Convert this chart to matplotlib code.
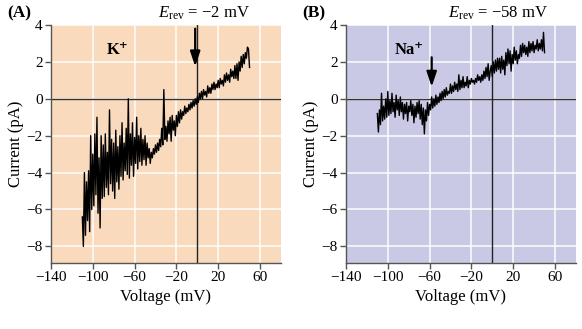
import matplotlib
matplotlib.use("Agg")
import matplotlib.pyplot as plt

plt.rcParams['font.family'] = ['Liberation Serif', 'DejaVu Serif']
plt.rcParams['mathtext.fontset'] = 'custom'
plt.rcParams['mathtext.rm'] = 'Liberation Serif'
plt.rcParams['mathtext.it'] = 'Liberation Serif:italic'

# voltage samples (mV), shared by both traces
voltage = [-110, -109, -108, -107, -106, -105, -104, -103, -102, -101,
           -100, -99, -98, -97, -96, -95, -94, -93, -92, -91,
           -90, -89, -88, -87, -86, -85, -84, -83, -82, -81,
           -80, -79, -78, -77, -76, -75, -74, -73, -72, -71,
           -70, -69, -68, -67, -66, -65, -64, -63, -62, -61,
           -60, -59, -58, -57, -56, -55, -54, -53, -52, -51,
           -50, -49, -48, -47, -46, -45, -44, -43, -42, -41,
           -40, -39, -38, -37, -36, -35, -34, -33, -32, -31,
           -30, -29, -28, -27, -26, -25, -24, -23, -22, -21,
           -20, -19, -18, -17, -16, -15, -14, -13, -12, -11,
           -10, -9, -8, -7, -6, -5, -4, -3, -2, -1,
           0, 1, 2, 3, 4, 5, 6, 7, 8, 9,
           10, 11, 12, 13, 14, 15, 16, 17, 18, 19,
           20, 21, 22, 23, 24, 25, 26, 27, 28, 29,
           30, 31, 32, 33, 34, 35, 36, 37, 38, 39,
           40, 41, 42, 43, 44, 45, 46, 47, 48, 49,
           50]

# K+ current (pA)
current_k = [-6.4, -8.0, -4.0, -7.4, -4.5, -6.6, -3.9, -7.2, -2.0, -6.0,
             -3.0, -5.8, -1.9, -5.2, -1.0, -6.2, -3.2, -7.0, -2.0, -5.4,
             -2.5, -5.3, -1.9, -4.8, -2.9, -5.2, -0.6, -4.6, -2.2, -5.0,
             -2.4, -5.4, -1.7, -4.5, -2.6, -4.9, -2.0, -4.2, -1.3, -4.4,
             -2.4, -3.9, -1.6, -4.1, 0.0, -4.3, -1.9, -3.6, -1.3, -4.2,
             -2.1, -3.5, -1.0, -3.8, -2.0, -3.4, -1.6, -3.6, -2.2, -3.3,
             -2.0, -3.6, -2.4, -3.2, -2.7, -3.5, -2.9, -3.2, -2.7, -3.0,
             -2.5, -2.9, -2.4, -2.8, -2.2, -2.6, -1.6, -2.5, 0.5, -2.2,
             -1.5, -2.3, -1.2, -1.9, -1.0, -2.3, -0.9, -1.7, -1.2, -2.0,
             -0.9, -1.5, -0.7, -1.3, -0.6, -1.1, -0.7, -0.9, -0.4, -0.8,
             -0.5, -0.7, -0.3, -0.6, -0.2, -0.5, -0.1, -0.4, 0.0, -0.3,
             0.1, -0.2, 0.3, 0.0, 0.4, 0.0, 0.5, 0.2, 0.4, 0.1,
             0.7, 0.3, 0.6, 0.3, 0.8, 0.5, 0.9, 0.5, 0.8, 0.6,
             1.0, 0.6, 1.1, 0.8, 1.0, 0.7, 1.3, 0.9, 1.4, 1.0,
             1.3, 0.9, 1.6, 1.2, 1.5, 1.1, 1.8, 1.1, 1.9, 1.0,
             2.0, 1.5, 2.3, 1.7, 2.4, 1.9, 2.5, 2.2, 2.8, 2.7,
             1.7]

# Na+ current (pA)
current_na = [-0.8, -1.8, -0.6, -1.4, 0.3, -1.2, -0.4, -1.1, 0.0, -1.0,
              0.4, -0.9, -0.1, -0.8, 0.3, -0.7, -0.2, -1.0, 0.2, -0.6,
              -0.1, -0.9, 0.1, -0.7, -0.2, -1.1, -0.3, -0.8, -0.2, -1.2,
              -0.4, -0.7, -0.1, -0.9, -0.3, -1.3, -0.4, -1.0, -0.2, -0.8,
              -0.1, -1.1, -0.3, -1.4, -0.5, -1.9, -0.6, -1.2, -0.2, -0.9,
              -0.3, -0.6, 0.1, -0.5, 0.0, -0.4, 0.2, -0.3, 0.1, -0.2,
              0.3, -0.1, 0.4, 0.0, 0.5, 0.1, 0.6, 0.2, 0.4, 0.3,
              0.8, 0.3, 0.7, 0.4, 0.9, 0.5, 0.8, 0.4, 1.3, 0.5,
              1.0, 0.6, 1.2, 0.6, 0.9, 0.7, 1.2, 0.6, 1.0, 0.8,
              1.1, 0.9, 1.0, 0.8, 1.1, 0.9, 1.3, 1.0, 1.2, 0.9,
              1.3, 1.0, 1.5, 1.1, 1.7, 1.2, 1.9, 1.0, 1.5, 1.8,
              1.2, 2.0, 1.4, 2.1, 1.5, 2.2, 1.6, 2.2, 1.4, 2.3,
              1.6, 2.1, 1.3, 2.5, 1.8, 2.7, 1.9, 2.6, 1.5, 2.4,
              1.9, 2.8, 2.1, 2.6, 1.9, 2.4, 2.2, 2.9, 2.3, 3.0,
              2.5, 2.9, 2.4, 2.8, 2.3, 3.1, 2.5, 3.0, 2.6, 3.1,
              2.5, 2.9, 2.7, 3.2, 2.6, 3.0, 2.7, 3.2, 2.6, 3.6,
              2.5]

x_ticks = [-140, -100, -60, -20, 20, 60]
y_ticks = [-8, -6, -4, -2, 0, 2, 4]

panels = [
    dict(pos=[0.0876, 0.2006, 0.395, 0.7234], bg='#FADABD', cur=current_k,
         tag='(A)', erev=-2, ion='K⁺', ion_xy=(-76, 2.2)),
    dict(pos=[0.5945, 0.2006, 0.395, 0.7234], bg='#C9C9E5', cur=current_na,
         tag='(B)', erev=-58, ion='Na⁺', ion_xy=(-80, 2.2)),
]

fig = plt.figure(figsize=(5.82, 3.29), dpi=100)
fig.patch.set_facecolor('white')

for p in panels:
    ax = fig.add_axes(p['pos'])
    ax.set_facecolor(p['bg'])
    ax.set_xlim(-140, 80)
    ax.set_ylim(-8.9, 4)
    ax.set_xticks(x_ticks)
    ax.set_yticks(y_ticks)
    ax.set_xticklabels([str(t).replace('-', '\u2212') for t in x_ticks])
    ax.set_yticklabels([str(t).replace('-', '\u2212') for t in y_ticks])
    ax.grid(True, color='white', lw=1.3, alpha=0.8)
    ax.set_axisbelow(True)
    for s in ['top', 'right']:
        ax.spines[s].set_visible(False)
    for s in ['left', 'bottom']:
        ax.spines[s].set_color('#555555')
        ax.spines[s].set_linewidth(1.0)
    ax.tick_params(direction='out', length=4, width=1.0, color='#555555',
                   labelsize=11, pad=2)
    ax.axhline(0, color='#333333', lw=1.0, zorder=2)
    ax.axvline(0, color='#222222', lw=1.0, zorder=2)
    ax.plot(voltage, p['cur'], color='black', lw=1.0, zorder=3)
    # reversal potential arrow
    top = 3.95 if p['erev'] > -10 else 2.4
    tip = 1.6 if p['erev'] > -10 else 0.5
    ax.annotate('', xy=(p['erev'], tip), xytext=(p['erev'], top),
                arrowprops=dict(arrowstyle='-|>,head_width=0.3,head_length=0.9',
                                color='black', lw=1.6), zorder=4)
    ax.text(p['ion_xy'][0], p['ion_xy'][1], p['ion'], fontsize=12,
            fontweight='bold', ha='center', va='bottom')
    ax.set_xlabel('Voltage (mV)', fontsize=12, labelpad=3)
    ax.set_ylabel('Current (pA)', fontsize=12, labelpad=2)
    bb = ax.get_position()
    fig.text(bb.x0 - 0.076, 0.985, p['tag'], fontsize=12.5, fontweight='bold',
             va='top', ha='left')
    fig.text(bb.x0 + 0.262, 0.985,
             r'$E_{\mathrm{rev}}$ = ' + '\u2212' + str(abs(p['erev'])) + ' mV',
             fontsize=12, va='top', ha='center')

fig.savefig('out.png', dpi=100)
